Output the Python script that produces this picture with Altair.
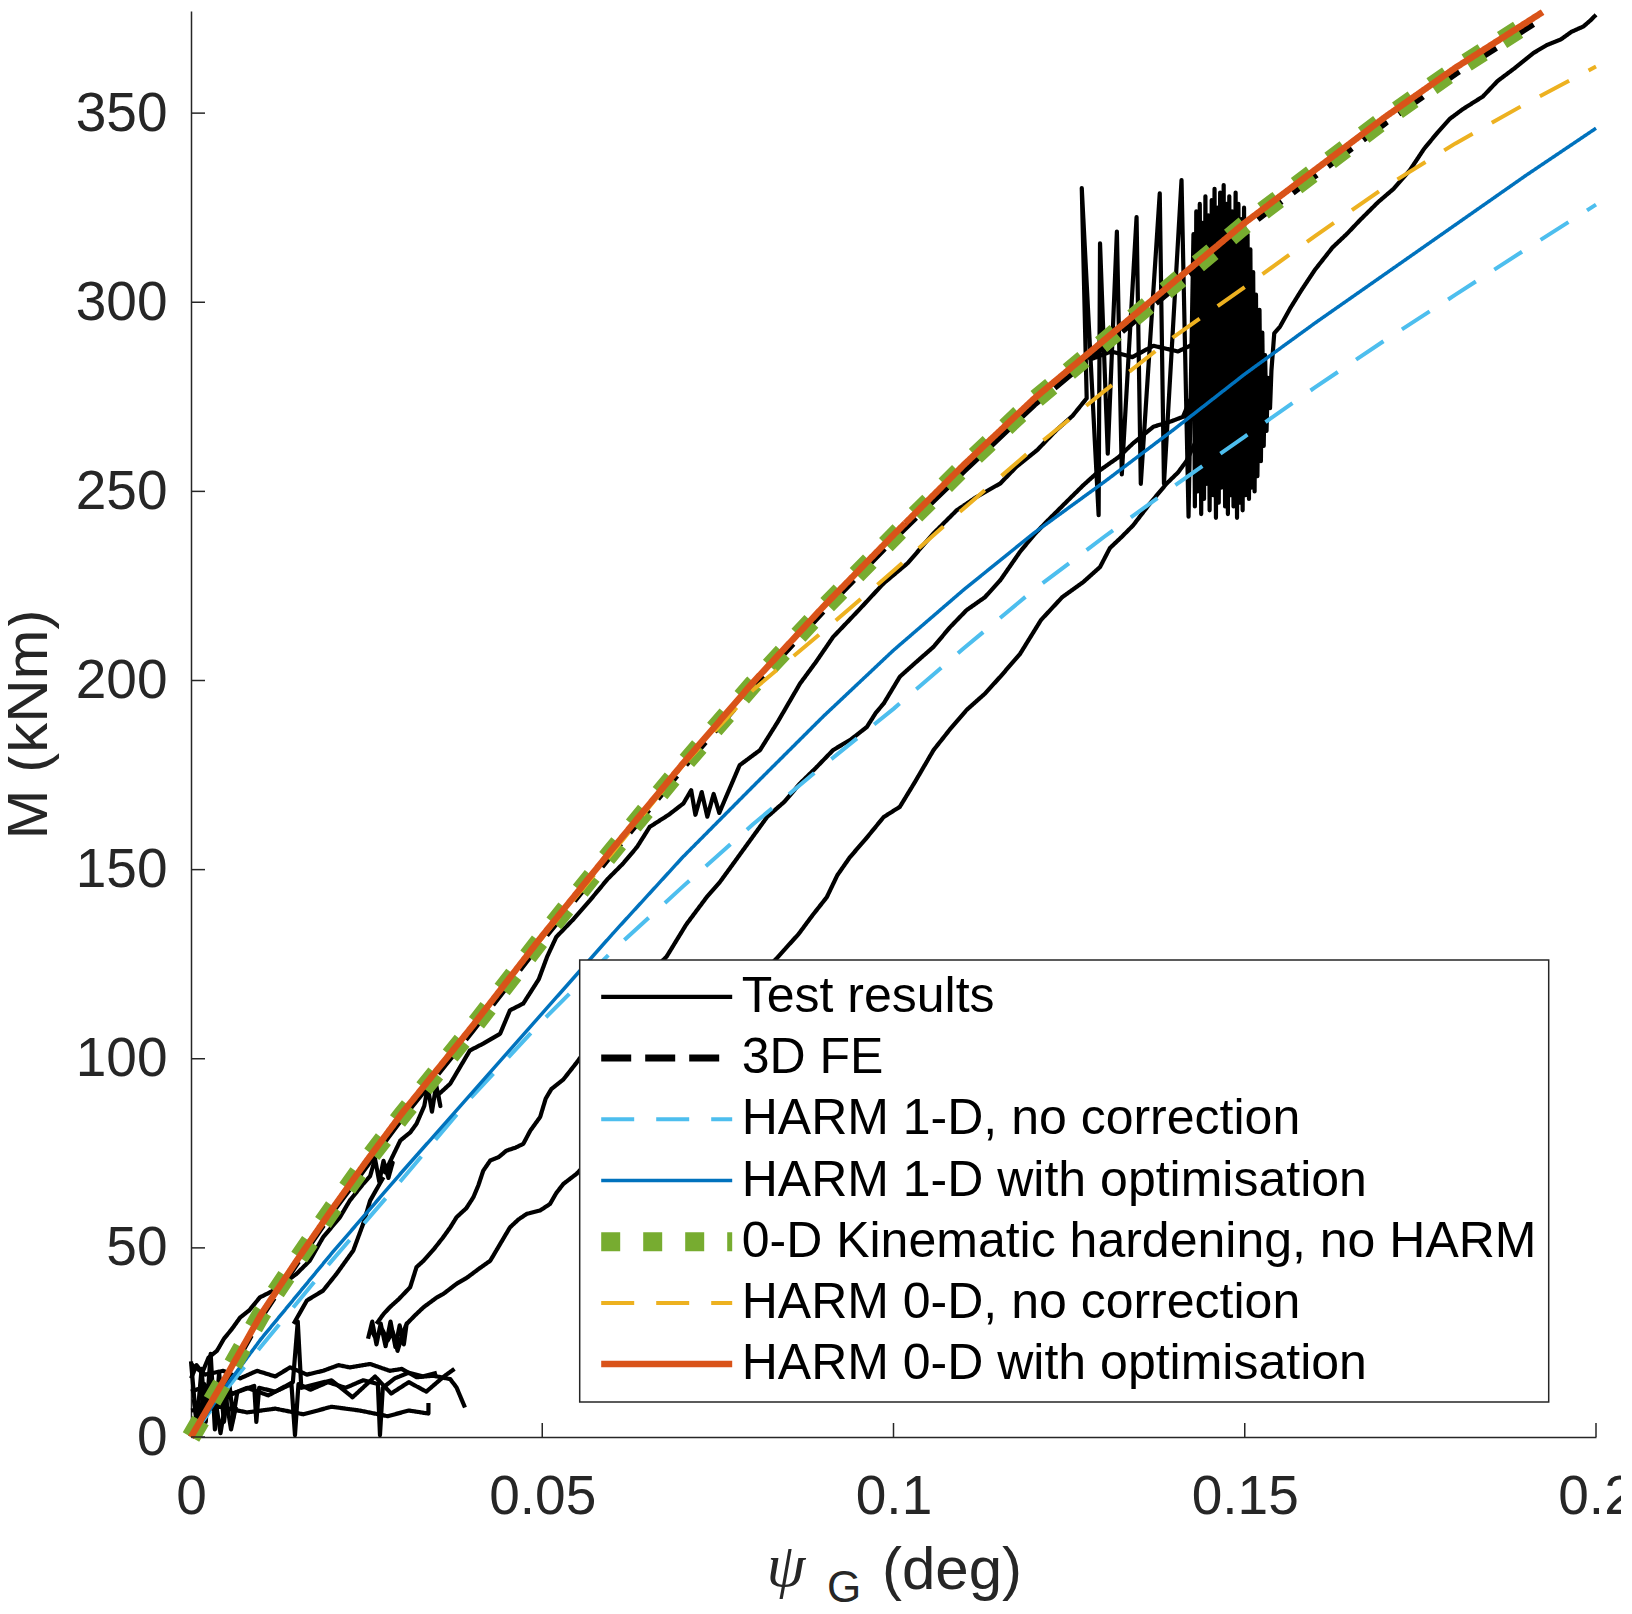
import altair as alt
import pandas as pd

FONT = "Liberation Sans"
AX = "#262626"

SERIES = ["Test results", "3D FE", "HARM 1-D, no correction", "HARM 1-D with optimisation",
          "0-D Kinematic hardening, no HARM", "HARM 0-D, no correction", "HARM 0-D with optimisation"]
COLORS = ["#000000", "#000000", "#4DBEEE", "#0072BD", "#77AC30", "#EDB120", "#D95319"]
DASHES = [[1, 0], [30, 14], [33, 22], [1, 0], [19, 23], [33, 22], [1, 0]]
WIDTHS = [4.2, 7, 4, 3.5, 19, 4, 6.5]

X_TICKS = [0, 0.05, 0.1, 0.15, 0.2]
Y_TICKS = [0, 50, 100, 150, 200, 250, 300, 350]

# ---- model curves ----
FE_X = [0, 0.005, 0.01, 0.015, 0.02, 0.025, 0.03, 0.04, 0.05, 0.06, 0.07, 0.08, 0.09, 0.10, 0.11, 0.12, 0.13, 0.14, 0.15, 0.16, 0.17, 0.18, 0.1918]
FE_Y = [0, 15.5, 32, 46, 59.5, 72, 84.5, 107.5, 131.5, 154.5, 177, 198.5, 218.5, 237.5, 255.5, 273, 288.5, 304, 319.5, 333.5, 347.5, 360.5, 374.5]

H1N_X = [0, 0.005, 0.01, 0.02, 0.03, 0.04, 0.05, 0.06, 0.07, 0.08, 0.09, 0.10, 0.11, 0.12, 0.13, 0.14, 0.15, 0.16, 0.17, 0.18, 0.19, 0.20]
H1N_Y = [0, 12.5, 24, 46.5, 68, 90, 110, 128.5, 145.5, 162, 177.5, 192.5, 208.5, 224, 238, 251.5, 264.5, 277.5, 290, 302, 314, 325.8]

H1O_X = [0, 0.005, 0.01, 0.02, 0.03, 0.04, 0.05, 0.06, 0.07, 0.08, 0.09, 0.10, 0.11, 0.12, 0.13, 0.14, 0.15, 0.16, 0.17, 0.18, 0.19, 0.20]
H1O_Y = [0, 13.5, 26, 48.5, 70, 91, 112, 133, 153.3, 172, 190.5, 208, 224, 239, 252.5, 266.5, 281, 294.5, 307.5, 320.5, 333.5, 346]

KIN_X = [0, 0.005, 0.01, 0.015, 0.02, 0.025, 0.03, 0.04, 0.05, 0.06, 0.07, 0.08, 0.09, 0.10, 0.11, 0.12, 0.13, 0.14, 0.15, 0.16, 0.17, 0.18, 0.191]
KIN_Y = [0, 16, 32.5, 46.5, 60, 73, 85, 108, 132, 155, 177.5, 199, 219, 238, 256.5, 274, 289.5, 305, 320.5, 334.5, 348.5, 361.5, 374.5]

H0N_X = [0, 0.005, 0.01, 0.015, 0.02, 0.025, 0.03, 0.04, 0.05, 0.06, 0.07, 0.08, 0.09, 0.10, 0.11, 0.12, 0.13, 0.14, 0.15, 0.16, 0.17, 0.18, 0.19, 0.20]
H0N_Y = [0, 16, 32.5, 46.5, 60, 73, 85.5, 108.5, 132, 154.5, 177.5, 197.5, 213, 229, 245.5, 261.5, 276.5, 291, 304, 317.5, 330.5, 342, 352.5, 362.3]

H0O_X = [0, 0.005, 0.01, 0.015, 0.02, 0.025, 0.03, 0.04, 0.05, 0.06, 0.07, 0.08, 0.09, 0.10, 0.11, 0.12, 0.13, 0.14, 0.15, 0.16, 0.17, 0.18, 0.1924]
H0O_Y = [0, 16, 32.5, 46.5, 60, 73, 85.5, 108.5, 132.5, 155.5, 178, 199.5, 219.5, 238.5, 257, 274.5, 290, 305.5, 321, 335, 349, 362, 376.7]

# ---- test results (x, y) ----
T1_RISE = [(0.000, 15.5), (0.0008, 19), (0.0016, 17), (0.0025, 21), (0.0037, 22.8), (0.0047, 26), (0.0058, 28.5),
           (0.007, 31.6), (0.0083, 33.5), (0.0098, 36.9), (0.0115, 38.5), (0.0131, 40.5), (0.015, 43.1), (0.0169, 46.6),
           (0.0188, 52.8), (0.0212, 58.1), (0.0226, 62.5), (0.0245, 66.9),
           (0.0255, 69), (0.0262, 73.5), (0.0268, 67.5), (0.0274, 73), (0.0281, 68.5), (0.0287, 72.5), (0.0276, 70),
           (0.0298, 78.4), (0.0312, 80.5), (0.0321, 82.8),
           (0.0332, 87.5), (0.0337, 92.5), (0.0343, 86), (0.0349, 93), (0.0355, 87.5), (0.0352, 90.5),
           (0.0369, 93.4), (0.0383, 97.8), (0.0397, 102.2), (0.0416, 104), (0.044, 106.6), (0.0454, 112.8),
           (0.0473, 114.6), (0.0495, 121), (0.0507, 127), (0.052, 132.2), (0.0545, 137), (0.0568, 141.9),
           (0.0593, 147.5), (0.0615, 151.6), (0.0635, 156), (0.0653, 161.3), (0.068, 164.5), (0.0701, 167.5),
           (0.0712, 171), (0.0718, 164.5), (0.0727, 170.5), (0.0735, 164), (0.0744, 170), (0.0752, 165), (0.076, 168.5),
           (0.0781, 177.6), (0.081, 181.6), (0.0835, 189), (0.0867, 199.2), (0.089, 205), (0.0914, 211.5),
           (0.095, 218.5), (0.0986, 225.7), (0.102, 231), (0.1057, 238.9), (0.109, 245), (0.1118, 248.5),
           (0.1152, 252.1), (0.1175, 256.5), (0.1205, 261), (0.1232, 266.2), (0.1255, 270), (0.1275, 274.6)]
T1_SPIKES = [(0.1268, 330.2), (0.1292, 243.7), (0.1294, 315.6), (0.1305, 260), (0.1318, 318.7), (0.1325, 254.5),
             (0.1346, 322.5), (0.1352, 252), (0.1379, 328.8), (0.1385, 252), (0.141, 332.3), (0.142, 243.3)]
BLOCK_X = [0.1427, 0.1429, 0.1431, 0.1433, 0.1436, 0.1438, 0.1440, 0.1442, 0.1444, 0.1446, 0.1448, 0.1450, 0.1453,
           0.1455, 0.1457, 0.1459, 0.1461, 0.1463, 0.1465, 0.1467, 0.1470, 0.1472, 0.1474, 0.1476, 0.1478, 0.1480,
           0.1482, 0.1484, 0.1487, 0.1489, 0.1491, 0.1493, 0.1495, 0.1497, 0.1499, 0.1501, 0.1504, 0.1506, 0.1508,
           0.1510, 0.1512, 0.1514, 0.1516, 0.1518, 0.1521, 0.1523, 0.1525, 0.1527, 0.1529, 0.1531, 0.1533, 0.1536]
BLOCK_Y = [318, 246, 324, 250, 326, 244, 321, 248, 328, 252, 323, 245, 327, 249, 330, 243, 325, 247, 329, 251,
           331, 246, 326, 244, 328, 249, 324, 246, 329, 243, 326, 247, 322, 245, 325, 249, 318, 248, 314, 251,
           308, 250, 302, 254, 298, 258, 292, 262, 286, 266, 280, 272]
T1_END = [(0.1538, 282), (0.1542, 291.8), (0.155, 293.5), (0.1565, 298.5), (0.158, 303), (0.16, 308.6),
          (0.1625, 314.5), (0.1645, 318), (0.1664, 321.7), (0.169, 326.5), (0.1712, 330), (0.1735, 334.9),
          (0.1755, 340.5), (0.1775, 345), (0.1792, 348.5), (0.181, 351), (0.1839, 354.4), (0.186, 358.5),
          (0.1885, 362), (0.1911, 365.9), (0.193, 368), (0.195, 369.5), (0.1965, 371.5), (0.1982, 372.9),
          (0.1992, 374.5), (0.2, 376)]
T2 = [(0.0146, 29.9), (0.0165, 36.1), (0.0188, 38.7), (0.0207, 43.1), (0.0231, 49.3), (0.0245, 56.3),
      (0.0255, 62.5), (0.0274, 68.7)]
T3 = [(0.0264, 29.9), (0.0274, 32.5), (0.0283, 34.3), (0.0296, 36.5), (0.0312, 39.6), (0.0321, 44.9), (0.0331, 46.6),
      (0.0345, 49.5), (0.0359, 52.8), (0.0369, 55.4), (0.0378, 58.1), (0.0392, 60.5), (0.0402, 63.4), (0.0409, 66.5),
      (0.0416, 70.4), (0.0426, 73.1), (0.0438, 74), (0.0449, 75.7), (0.0462, 76.5), (0.0473, 77.5), (0.0483, 81),
      (0.0497, 84.6), (0.0505, 89.5), (0.0513, 92), (0.053, 94.5), (0.0549, 99), (0.06, 112), (0.065, 122),
      (0.0677, 127), (0.0705, 135.5), (0.0734, 142.7), (0.0752, 146.5), (0.0772, 151.6), (0.0795, 157.5),
      (0.082, 163.9), (0.0845, 168), (0.0867, 172.8), (0.089, 177), (0.0914, 181.6), (0.094, 184.5),
      (0.0962, 187.7), (0.0975, 191.5), (0.0986, 193.9), (0.1009, 201), (0.103, 204.5), (0.1057, 208.9),
      (0.108, 214), (0.1104, 218.6), (0.113, 222), (0.1152, 226.5), (0.118, 234), (0.12, 238.5), (0.1218, 242),
      (0.1245, 247), (0.127, 251.6), (0.1294, 255.6), (0.132, 259), (0.1341, 262.7), (0.137, 267.1),
      (0.1395, 268.5), (0.1412, 269.7), (0.1422, 274.1), (0.1432, 276)]
T4 = [(0.0307, 29.9), (0.0318, 32), (0.0331, 34.3), (0.035, 36.9), (0.0359, 37.8), (0.0378, 40.5), (0.0392, 42),
      (0.041, 44.5), (0.0426, 46.6), (0.044, 51), (0.0454, 55.4), (0.0466, 57.5), (0.0478, 59), (0.0497, 59.9),
      (0.0511, 61.6), (0.052, 64.5), (0.053, 66.9), (0.0549, 69.6), (0.06, 80), (0.07, 100), (0.08, 120),
      (0.0833, 126.4), (0.0865, 133), (0.0885, 138), (0.0905, 142.7), (0.092, 148.5), (0.0938, 153.3),
      (0.096, 158), (0.0986, 163.9), (0.1009, 166.6), (0.103, 173), (0.1057, 181.6), (0.108, 187), (0.1104, 192.2),
      (0.113, 196.5), (0.1152, 201), (0.118, 207), (0.121, 216), (0.124, 222), (0.127, 226), (0.1294, 230),
      (0.1308, 235), (0.1325, 238), (0.1341, 241), (0.1365, 246.8), (0.1389, 252.1), (0.1405, 255),
      (0.1417, 258), (0.1431, 263.5)]
BLOB = [(0.0252, 26), (0.0258, 30.5), (0.0264, 24.5), (0.027, 30), (0.0277, 24), (0.0284, 30.5), (0.0291, 23.8),
        (0.0297, 29.5), (0.0303, 24.5), (0.0307, 30), (0.0301, 27), (0.0294, 22.8), (0.0287, 28), (0.028, 25.5),
        (0.0272, 28.5), (0.0263, 26), (0.0255, 29)]
FLAT = [(0.1282, 285), (0.131, 287), (0.134, 285.5), (0.137, 288.5), (0.1405, 287), (0.1428, 289)]
L1 = [(0, 19.3), (0.002, 16.5), (0.0046, 17.5), (0.007, 15.5), (0.0094, 17.5), (0.012, 16), (0.0141, 18.4),
      (0.0165, 16.5), (0.0188, 17.5), (0.021, 19), (0.0226, 18.4), (0.0255, 19.3), (0.0283, 17.5), (0.030, 18),
      (0.0321, 15.8), (0.0345, 16.2), (0.0369, 15.3), (0.0378, 13.1), (0.039, 7.8)]
L2 = [(0, 12), (0.003, 14), (0.006, 11.5), (0.009, 13.5), (0.0093, 4), (0.0097, 13), (0.012, 12), (0.0143, 14),
      (0.0148, 0.5), (0.0153, 14), (0.017, 12.5), (0.0195, 14.5), (0.022, 13), (0.0245, 15), (0.0266, 14),
      (0.0269, 0.5), (0.0273, 13), (0.029, 15.5), (0.031, 17), (0.033, 16), (0.035, 17)]
L3 = [(0, 7), (0.004, 8), (0.008, 6.5), (0.012, 7.5), (0.016, 6), (0.02, 8), (0.024, 7), (0.028, 5.5), (0.031, 7),
      (0.0338, 6.2), (0.0338, 9)]
L4 = [(0.004, 10), (0.008, 13), (0.011, 11), (0.0145, 14.5), (0.0152, 30.5), (0.0157, 13), (0.02, 15),
      (0.023, 10.5), (0.0262, 16), (0.0285, 11.5), (0.031, 14.5), (0.0335, 12), (0.036, 16), (0.0375, 18)]
O1 = [(0, 20), (0.0008, 3), (0.0015, 18), (0.0021, 4), (0.0028, 22), (0.0034, 2), (0.004, 17), (0.0047, 4),
      (0.0054, 15), (0.006, 5), (0.0066, 12)]
O2 = [(0.0004, 10), (0.0011, 1), (0.0019, 14), (0.0026, 7), (0.0033, 12), (0.0042, 1), (0.005, 10), (0.0057, 2),
      (0.0064, 8)]

# ---------------- frames ----------------
def frame_xy(xs, ys, name):
    return pd.DataFrame({"x": xs, "y": ys, "series": name, "seg": name, "i": list(range(len(xs)))})


def frame_pairs(pairs, seg):
    return pd.DataFrame({"x": [p[0] for p in pairs], "y": [p[1] for p in pairs],
                         "series": "Test results", "seg": seg, "i": list(range(len(pairs)))})


t1_pairs = T1_RISE + T1_SPIKES + list(zip(BLOCK_X, BLOCK_Y)) + T1_END
tests = pd.concat([
    frame_pairs(O1, "o1"), frame_pairs(O2, "o2"), frame_pairs(L1, "l1"), frame_pairs(L2, "l2"),
    frame_pairs(L3, "l3"), frame_pairs(L4, "l4"), frame_pairs(BLOB, "blob"), frame_pairs(T2, "t2"),
    frame_pairs(T3, "t3"), frame_pairs(T4, "t4"), frame_pairs(FLAT, "flat"), frame_pairs(t1_pairs, "t1"),
], ignore_index=True)

W, H = 1405, 1426

xs = alt.Scale(domain=[0, 0.2], nice=False, zero=False)
ys = alt.Scale(domain=[0, 377], nice=False)
xaxis = alt.Axis(values=X_TICKS, format="~g", ticks=False, labelFontSize=55, labelFont=FONT, labelColor=AX,
                 labelPadding=33, labelFlush=False, labelOverlap=False, domainColor=AX, domainWidth=1.5,
                 grid=False, title=None)
yaxis = alt.Axis(values=Y_TICKS, ticks=False, labelFontSize=55, labelFont=FONT, labelColor=AX,
                 labelPadding=24, labelOverlap=False, domainColor=AX, domainWidth=1.5, grid=False,
                 title="M (kNm)", titleFontSize=60, titleFont=FONT, titleFontWeight="normal",
                 titleColor=AX, titlePadding=16)

leg = alt.Legend(title=None, orient="none", legendX=388.7, legendY=948.9, symbolType="stroke",
                 symbolSize=17161, clipHeight=50, rowPadding=11.2, padding=12, labelOffset=0,
                 labelFontSize=50, labelFont=FONT, labelColor="#000000", labelLimit=1200,
                 fillColor="#ffffff", strokeColor=AX)
cscale = alt.Scale(domain=SERIES, range=COLORS)
dscale = alt.Scale(domain=SERIES, range=DASHES)
wscale = alt.Scale(type="ordinal", domain=SERIES, range=WIDTHS)


def line_layer(df, detail=False):
    enc = dict(
        x=alt.X("x:Q", scale=xs, axis=xaxis),
        y=alt.Y("y:Q", scale=ys, axis=yaxis),
        color=alt.Color("series:N", scale=cscale, legend=leg),
        strokeDash=alt.StrokeDash("series:N", scale=dscale, legend=leg),
        strokeWidth=alt.StrokeWidth("series:N", scale=wscale, legend=leg),
        order=alt.Order("i:Q"),
    )
    if detail:
        enc["detail"] = alt.Detail("seg:N")
    return alt.Chart(df).mark_line(strokeJoin="round").encode(**enc)


layers = [
    line_layer(tests, detail=True),
    line_layer(frame_xy(FE_X, FE_Y, SERIES[1])),
    line_layer(frame_xy(H1N_X, H1N_Y, SERIES[2])),
    line_layer(frame_xy(H1O_X, H1O_Y, SERIES[3])),
    line_layer(frame_xy(KIN_X, KIN_Y, SERIES[4])),
    line_layer(frame_xy(H0N_X, H0N_Y, SERIES[5])),
    line_layer(frame_xy(H0O_X, H0O_Y, SERIES[6])),
]

ytick_rules = alt.Chart(pd.DataFrame({"v": Y_TICKS})).mark_rule(color=AX, strokeWidth=1.5).encode(
    y=alt.Y("v:Q", scale=ys, axis=yaxis), x=alt.value(0), x2=alt.value(14))
xtick_rules = alt.Chart(pd.DataFrame({"v": X_TICKS[1:]})).mark_rule(color=AX, strokeWidth=1.5).encode(
    x=alt.X("v:Q", scale=xs, axis=xaxis), y=alt.value(H), y2=alt.value(H - 14))

psi = alt.Chart(pd.DataFrame({"t": ["ψ"]})).mark_text(
    font="Liberation Serif", fontStyle="italic", fontSize=62, align="center", baseline="alphabetic",
    color=AX).encode(text="t:N", x=alt.value(595), y=alt.value(1575))
sub_g = alt.Chart(pd.DataFrame({"t": ["G"]})).mark_text(
    font=FONT, fontSize=44, align="left", baseline="alphabetic", color=AX).encode(
    text="t:N", x=alt.value(636), y=alt.value(1591))
deg = alt.Chart(pd.DataFrame({"t": ["(deg)"]})).mark_text(
    font=FONT, fontSize=60, align="left", baseline="alphabetic", color=AX).encode(
    text="t:N", x=alt.value(691), y=alt.value(1578))

chart = alt.layer(*layers, ytick_rules, xtick_rules, psi, sub_g, deg).properties(
    width=W, height=H,
    autosize=alt.AutoSizeParams(type="none"),
    padding={"left": 183, "top": 3, "right": 25, "bottom": 168},
).configure_view(strokeWidth=0).configure_legend(strokeWidth=1.5)

chart.save("out.html", embed_options={"renderer": "svg", "actions": False})
